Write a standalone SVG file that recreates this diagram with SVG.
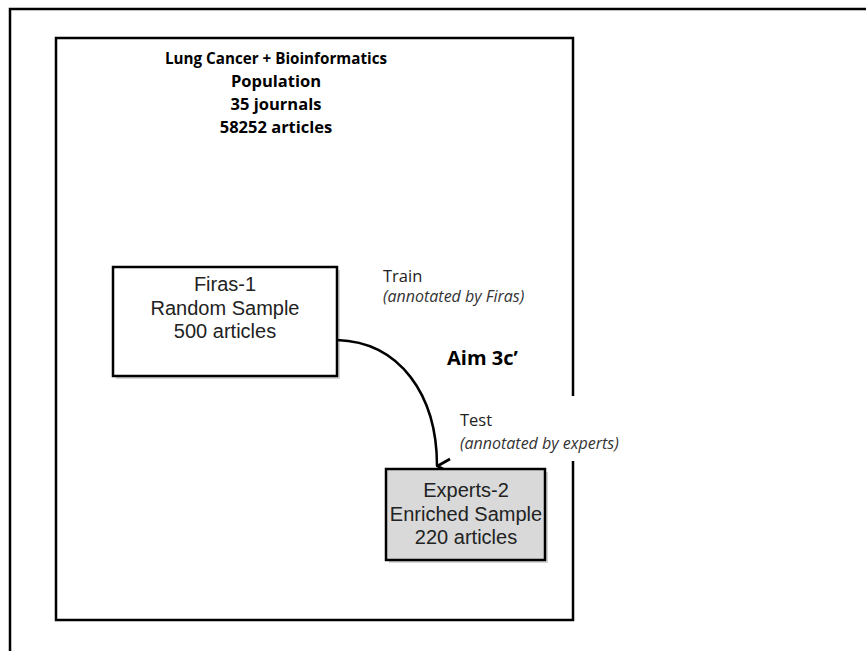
<svg xmlns="http://www.w3.org/2000/svg" width="866" height="651" viewBox="0 0 866 651">
<style>
text{font-family:"Open Sans","Noto Sans","Liberation Sans",sans-serif;fill:#000}
.t{font-size:16.5px;font-weight:bold;text-anchor:middle}
.b{font-family:"Liberation Sans","Open Sans",sans-serif;font-size:20px;text-anchor:middle;fill:#222}
.l{font-size:16.5px;fill:#222}
.i{font-size:16px;font-style:italic;fill:#333}
.box{stroke:#000;stroke-width:2.5}
.sh{fill:#bbb;opacity:0.6}
</style>
<defs>
<marker id="ah" viewBox="0 0 18 16" refX="9" refY="15" markerWidth="18" markerHeight="16" markerUnits="userSpaceOnUse" orient="auto-start-reverse">
<path d="M2,2 L9,14.5 L16,2" fill="none" stroke="#000" stroke-width="2.8"/>
</marker>
</defs>
<rect width="866" height="651" fill="#fff"/>
<rect x="10" y="9" width="880" height="680" fill="none" stroke="#000" stroke-width="2.5"/>
<g id="population">
<rect x="56" y="38" width="517" height="582" fill="none" stroke="#000" stroke-width="2.5"/>
<text class="t" x="276" y="64" textLength="222" lengthAdjust="spacingAndGlyphs">Lung Cancer + Bioinformatics</text>
<text class="t" x="276" y="87">Population</text>
<text class="t" x="276" y="110">35 journals</text>
<text class="t" x="276" y="133">58252 articles</text>
</g>
<g id="firas">
<rect class="sh" x="116" y="270" width="224" height="109"/>
<rect class="box" x="113" y="267" width="224" height="109" fill="#fff"/>
<text class="b" x="225" y="291">Firas-1</text>
<text class="b" x="225" y="315">Random Sample</text>
<text class="b" x="225" y="338">500 articles</text>
</g>
<g id="train-label">
<text class="l" x="383" y="282">Train</text>
<text class="i" x="383" y="302">(annotated by Firas)</text>
</g>
<g id="aim">
<text x="447" y="365" style="font-size:20px;font-weight:bold">Aim 3c’</text>
</g>
<g id="test-label">
<rect x="455" y="396" width="180" height="65" fill="#fff"/>
<text class="l" x="460" y="426">Test</text>
<text class="i" x="460" y="449">(annotated by experts)</text>
</g>
<g id="connectors">
<path d="M337,340 C400,342 437,395 437,466" fill="none" stroke="#000" stroke-width="2.5" marker-end="url(#ah)"/>
</g>
<g id="experts">
<rect class="sh" x="389" y="472" width="159" height="91"/>
<rect class="box" x="386" y="469" width="159" height="91" fill="#d9d9d9"/>
<text class="b" x="466" y="497">Experts-2</text>
<text class="b" x="466" y="521">Enriched Sample</text>
<text class="b" x="466" y="544">220 articles</text>
</g>
</svg>
